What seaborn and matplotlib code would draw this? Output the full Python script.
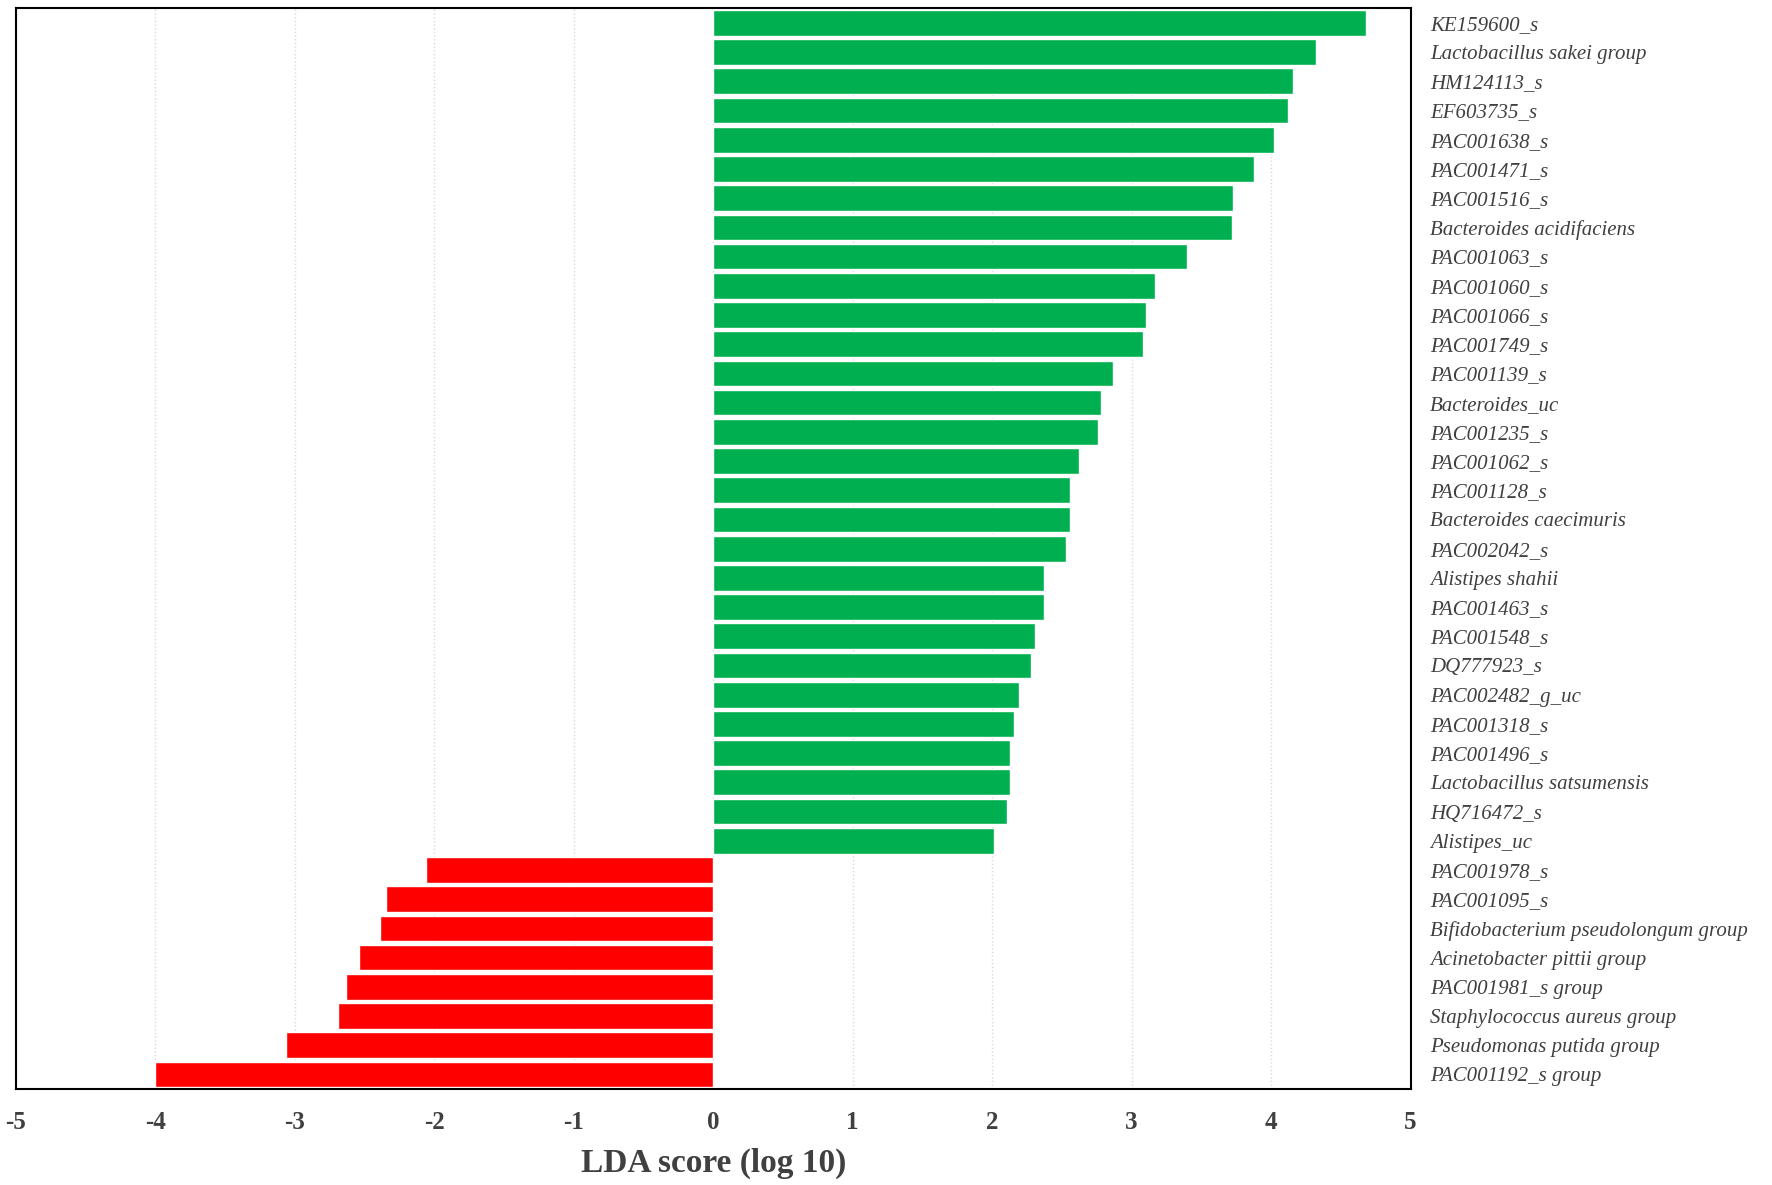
import numpy as np
import pandas as pd
import matplotlib
matplotlib.use("Agg")
import matplotlib.pyplot as plt
import seaborn as sns

# taxa from top to bottom, LDA score (log 10)
taxa = [
    "KE159600_s", "Lactobacillus sakei group", "HM124113_s", "EF603735_s",
    "PAC001638_s", "PAC001471_s", "PAC001516_s", "Bacteroides acidifaciens",
    "PAC001063_s", "PAC001060_s", "PAC001066_s", "PAC001749_s",
    "PAC001139_s", "Bacteroides_uc", "PAC001235_s", "PAC001062_s",
    "PAC001128_s", "Bacteroides caecimuris", "PAC002042_s", "Alistipes shahii",
    "PAC001463_s", "PAC001548_s", "DQ777923_s", "PAC002482_g_uc",
    "PAC001318_s", "PAC001496_s", "Lactobacillus satsumensis", "HQ716472_s",
    "Alistipes_uc",
    "PAC001978_s", "PAC001095_s", "Bifidobacterium pseudolongum group",
    "Acinetobacter pittii group", "PAC001981_s group",
    "Staphylococcus aureus group", "Pseudomonas putida group",
    "PAC001192_s group",
]
scores = [
    4.68, 4.32, 4.16, 4.12,
    4.02, 3.88, 3.73, 3.72,
    3.40, 3.17, 3.10, 3.08,
    2.87, 2.78, 2.76, 2.62,
    2.56, 2.56, 2.53, 2.37,
    2.37, 2.31, 2.28, 2.19,
    2.16, 2.13, 2.13, 2.11,
    2.01,
    -2.06, -2.35, -2.39,
    -2.54, -2.63,
    -2.69, -3.06,
    -4.00,
]
groups = ["up" if s > 0 else "down" for s in scores]

df = pd.DataFrame({"taxon": taxa, "score": scores, "group": groups})

sns.set_style("white")
plt.rcParams["font.family"] = ["Liberation Serif", "DejaVu Serif"]

fig = plt.figure(figsize=(17.72, 11.85), dpi=100)
ax = fig.add_axes([0.009, 0.081, 0.787, 0.912])

sns.barplot(data=df, x="score", y="taxon", hue="group", orient="h",
            palette={"up": "#00B050", "down": "#FF0000"},
            dodge=False, width=0.88, legend=False, ax=ax, saturation=1)

ax.set_xlim(-5, 5)
ax.set_ylim(len(taxa) - 0.5, -0.5)
ax.set_xticks(range(-5, 6))
ax.set_xticklabels([str(t) for t in range(-5, 6)], fontweight="bold",
                   fontsize=18, color="#404040")
ax.xaxis.grid(True, linestyle=":", color="#d9d9d9", linewidth=1)
ax.set_axisbelow(True)

ax.yaxis.tick_right()
ax.tick_params(axis="y", length=0, pad=14)
ax.tick_params(axis="x", length=0, pad=16)
for lab in ax.get_yticklabels():
    lab.set_fontstyle("italic")
    lab.set_fontsize(15)
    lab.set_color("#404040")

ax.set_ylabel("")
ax.set_xlabel("LDA score (log 10)", fontsize=24, fontweight="bold",
              color="#404040", labelpad=10)

for sp in ax.spines.values():
    sp.set_color("black")
    sp.set_linewidth(1.5)

fig.savefig("out.png", dpi=100)
